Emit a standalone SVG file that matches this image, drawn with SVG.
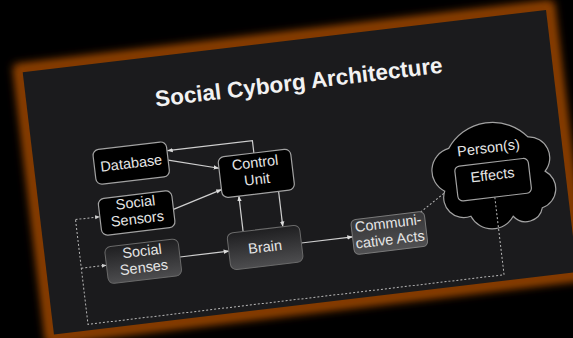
<svg xmlns="http://www.w3.org/2000/svg" width="573" height="338" viewBox="0 0 573 338">
<defs>
<filter id="glow" x="-10%" y="-10%" width="120%" height="120%"><feGaussianBlur stdDeviation="4.5"/></filter>
<linearGradient id="grey" x1="0" y1="0" x2="0" y2="1"><stop offset="0" stop-color="#1f1f21"/><stop offset="1" stop-color="#4d4d4f"/></linearGradient>
<linearGradient id="grey2" x1="0" y1="0" x2="0" y2="1"><stop offset="0" stop-color="#363638"/><stop offset="1" stop-color="#505052"/></linearGradient>
<marker id="ah" viewBox="0 0 10 10" refX="9.5" refY="5" markerWidth="5.5" markerHeight="5.5" orient="auto" markerUnits="userSpaceOnUse"><path d="M0,1 L10,5 L0,9z" fill="#dcdcdc"/></marker>
<marker id="ahd" viewBox="0 0 10 10" refX="9.5" refY="5" markerWidth="5" markerHeight="5" orient="auto" markerUnits="userSpaceOnUse"><path d="M0,1 L10,5 L0,9z" fill="#cfcfcf"/></marker>
</defs>
<style>
text{font-family:"Liberation Sans",Arial,Helvetica,sans-serif;fill:#e6e6e6;text-anchor:middle}
.t{font-size:14.5px}
.title{font-size:22.5px;font-weight:bold;fill:#f2f2f2}
.blk{fill:#000;stroke:#a2a2a2;stroke-width:1.2}
.gr{fill:url(#grey);stroke:#6a6a6a;stroke-width:1}
.gr2{fill:url(#grey2);stroke:#7a7a7a;stroke-width:1}
.c{fill:none;stroke:#cfcfcf;stroke-width:1.2;marker-end:url(#ah)}
.d{fill:none;stroke:#b8b8b8;stroke-width:1;stroke-dasharray:2 2;marker-end:url(#ahd)}
.dn{fill:none;stroke:#b8b8b8;stroke-width:1;stroke-dasharray:2 2}
</style>
<rect width="573" height="338" fill="#000"/>
<g transform="translate(22.7,72.3) rotate(-6.8)">
<rect x="-9" y="-9" width="545" height="282" rx="4" fill="#934206" filter="url(#glow)"/>
<rect x="-4" y="-4" width="535" height="272" fill="#7e3702" filter="url(#glow)"/>
<rect x="0" y="0" width="527" height="264" fill="#1b1b1d"/>
<text class="title" x="273" y="50">Social Cyborg Architecture</text>
<g id="connectors">
<path class="c" d="M220,107.5 V95 H134.5"/>
<path class="c" d="M134,104.5 L183.5,118.5"/>
<path class="c" d="M133.5,154 L183.5,140"/>
<path class="c" d="M200,184 V148.5"/>
<path class="c" d="M240,148.5 V184"/>
<path class="c" d="M134.3,202 H183.5"/>
<path class="c" d="M256.5,202.5 H308"/>
<path class="d" d="M378.5,186 L417.4,161.5"/>
<path class="dn" d="M454,180 V258 H35 V152.5"/>
<path class="d" d="M35,152.5 H59.5"/>
<path class="d" d="M35,201.5 H60.3"/>
</g>
<g id="persons">
<path class="blk" d="M414,126 A50,50 0 0 1 494,124 A21,21 0 0 1 507,160 A20,20 0 0 1 500,196 A17,17 0 0 1 470,201 A24,24 0 0 1 428,196 A20,20 0 0 1 405,168 A23,23 0 0 1 414,126 Z"/>
<text class="t" x="453.5" y="135">Person(s)</text>
</g>
<path class="dn" d="M454,180 V210"/>
<g id="database"><rect class="blk" x="60" y="85.5" width="74" height="35" rx="6"/><text class="t" x="97" y="108">Database</text></g>
<g id="control-unit"><rect class="blk" x="183.5" y="107.5" width="73" height="41" rx="6"/><text class="t" x="220" y="122">Control</text><text class="t" x="220" y="139">Unit</text></g>
<g id="social-sensors"><rect class="blk" x="59.5" y="134.7" width="74" height="37" rx="6"/><text class="t" x="96.5" y="147.5">Social</text><text class="t" x="96.5" y="164">Sensors</text></g>
<g id="social-senses"><rect class="gr" x="60.3" y="183.4" width="74" height="37" rx="6"/><text class="t" x="97.3" y="196.5">Social</text><text class="t" x="97.3" y="213">Senses</text></g>
<g id="brain"><rect class="gr" x="183.5" y="184.1" width="73" height="37" rx="6"/><text class="t" x="220" y="207">Brain</text></g>
<g id="communicative-acts"><rect class="gr2" x="308" y="185.5" width="74" height="35" rx="5"/><text class="t" x="345" y="198">Communi-</text><text class="t" x="345" y="214.5">cative Acts</text></g>
<g id="effects"><rect class="blk" x="417.4" y="144.8" width="74" height="35" rx="5"/><text class="t" x="454.4" y="162.5">Effects</text></g>
</g>
</svg>
